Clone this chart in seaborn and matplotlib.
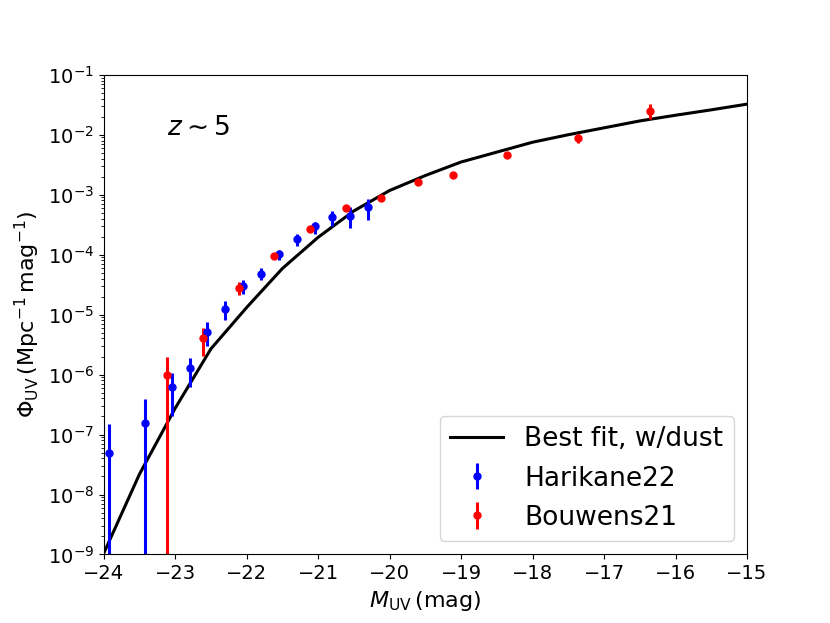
import numpy as np
import matplotlib
matplotlib.use("Agg")
import matplotlib.pyplot as plt
import seaborn as sns
import pandas as pd

# Best-fit luminosity function (log10 Phi)
fit_muv = [-24.0, -23.5, -23.0, -22.5, -22.0, -21.5, -21.0, -20.5, -20.0, -19.5,
           -19.0, -18.5, -18.0, -17.5, -17.0, -16.5, -16.0, -15.5, -15.0]
fit_logphi = [-8.98, -7.66, -6.56, -5.57, -4.88, -4.23, -3.71, -3.27, -2.93, -2.68,
              -2.455, -2.29, -2.125, -2.0, -1.885, -1.77, -1.675, -1.585, -1.49]

# Harikane22
har_muv = [-23.92, -23.42, -23.05, -22.80, -22.555, -22.30, -22.05, -21.80, -21.55,
           -21.30, -21.05, -20.80, -20.55, -20.30]
har_logphi = [-7.31, -6.80, -6.20, -5.895, -5.285, -4.90, -4.52, -4.32, -3.99,
              -3.74, -3.53, -3.38, -3.355, -3.21]
har_loghi = [-6.83, -6.40, -5.98, -5.72, -5.13, -4.78, -4.42, -4.23, -3.92,
             -3.66, -3.45, -3.28, -3.20, -3.07]
har_loglo = [-11.0, -11.0, -6.69, -6.21, -5.52, -5.09, -4.66, -4.42, -4.09,
             -3.85, -3.655, -3.53, -3.55, -3.43]

# Bouwens21
bou_muv = [-23.11, -22.61, -22.11, -21.62, -21.11, -20.615, -20.12, -19.61, -19.11,
           -18.36, -17.36, -16.36]
bou_logphi = [-6.0, -5.395, -4.55, -4.03, -3.58, -3.23, -3.05, -2.79, -2.67,
              -2.33, -2.054, -1.60]
bou_loghi = [-5.70, -5.23, -4.46, -4.00, -3.56, -3.21, -3.03, -2.77, -2.65,
             -2.31, -1.99, -1.49]
bou_loglo = [-11.0, -5.69, -4.67, -4.06, -3.60, -3.25, -3.07, -2.81, -2.69,
             -2.35, -2.13, -1.74]

fig, ax = plt.subplots(figsize=(8.3, 6.23), dpi=100)

fit_df = pd.DataFrame({"M": fit_muv, "phi": 10.0 ** np.array(fit_logphi)})
sns.lineplot(data=fit_df, x="M", y="phi", color="black", lw=2.2,
             label="Best fit, w/dust", ax=ax)

def draw(muv, logphi, loghi, loglo, color, label):
    phi = 10.0 ** np.array(logphi)
    hi = 10.0 ** np.array(loghi) - phi
    lo = phi - 10.0 ** np.array(loglo)
    ax.errorbar(muv, phi, yerr=[lo, hi], fmt="o", color=color, ms=5,
                elinewidth=2.2, capsize=0, label=label)

draw(har_muv, har_logphi, har_loghi, har_loglo, "blue", "Harikane22")
draw(bou_muv, bou_logphi, bou_loghi, bou_loglo, "red", "Bouwens21")

ax.set_yscale("log")
ax.set_xlim(-24, -15)
ax.set_ylim(1e-9, 1e-1)
ax.set_xticks(np.arange(-24, -14, 1))
ax.tick_params(labelsize=14)
ax.set_xlabel(r"$M_{\rm UV}\,(\rm mag)$", fontsize=16)
ax.set_ylabel(r"$\Phi_{\rm UV}\,(\rm Mpc^{-1}\,mag^{-1})$", fontsize=16)
ax.text(0.098, 0.89, r"$z\sim5$", transform=ax.transAxes, fontsize=19,
        ha="left", va="center")
ax.legend(loc="lower right", fontsize=19)

fig.savefig("out.png", dpi=100)
